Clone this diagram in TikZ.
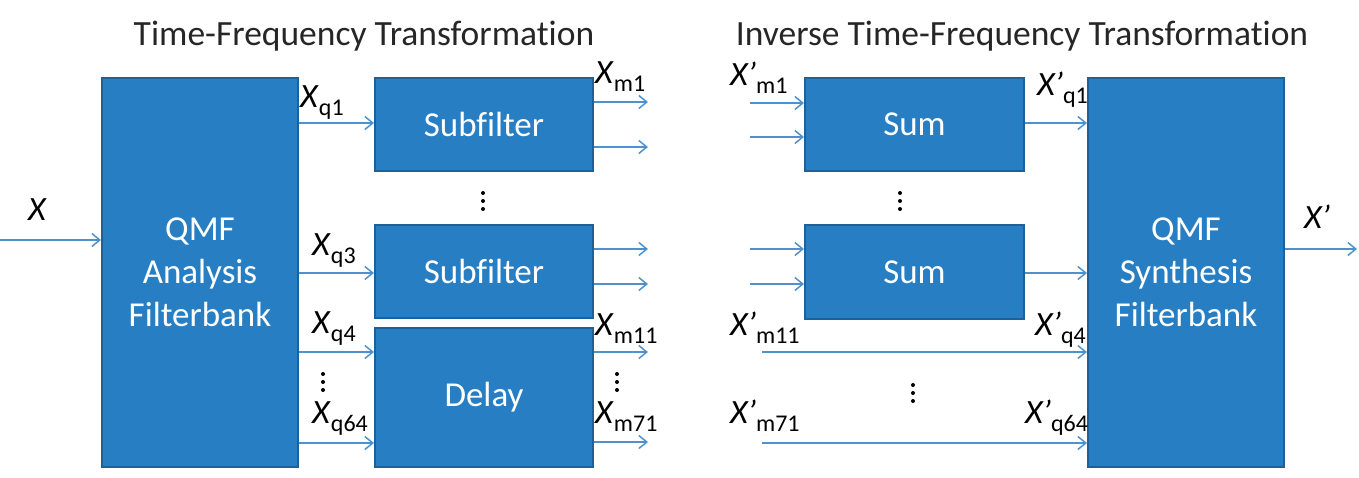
\documentclass[tikz,border=0pt]{standalone}
\usepackage{fontspec}
\setmainfont{Carlito}[Ligatures=NoCommon]
\usetikzlibrary{arrows.meta}
\definecolor{boxfill}{RGB}{40,126,194}
\definecolor{boxdraw}{RGB}{30,96,152}
\definecolor{arr}{RGB}{80,145,205}
\newcommand{\sigl}[2]{\textit{#1}\raisebox{-8pt}{\fontsize{24}{24}\selectfont #2}}
\begin{document}
\begin{tikzpicture}[x=1pt,y=-1pt,
  blk/.style={draw=boxdraw, line width=2pt, fill=boxfill, text=white,
    font=\fontsize{35}{43}\selectfont, align=center, inner sep=0},
  conn/.style={draw=arr, line width=1.5pt, -{Straight Barb[length=8pt,width=13pt]}},
  lbl/.style={anchor=base west, inner sep=0, font=\fontsize{34}{34}\selectfont},
  ttl/.style={anchor=base, inner sep=0, text=black!85, font=\fontsize{35.5}{35.5}\selectfont},
  dot/.style={fill=black, draw=none}]
\useasboundingbox (0,0) rectangle (1359,477);
% titles
\node[ttl] (t1) at (364,45) {Time-Frequency Transformation};
\node[ttl] (t2) at (1022,45) {Inverse Time-Frequency Transformation};
% left blocks
\node[blk, minimum width=196pt, minimum height=389pt] (qa) at (200,272.5) {QMF\\Analysis\\Filterbank};
\node[blk, minimum width=218pt, minimum height=93pt] (sf1) at (484,124.5) {Subfilter};
\node[blk, minimum width=218pt, minimum height=93pt] (sf2) at (484,271.5) {Subfilter};
\node[blk, minimum width=218pt, minimum height=139pt] (dl) at (484,397.5) {Delay};
% right blocks
\node[blk, minimum width=219pt, minimum height=93pt] (sm1) at (914.5,124.5) {Sum};
\node[blk, minimum width=219pt, minimum height=94pt] (sm2) at (914.5,272) {Sum};
\node[blk, minimum width=196pt, minimum height=389pt] (qs) at (1186,272.5) {QMF\\Synthesis\\Filterbank};
% input / output
\coordinate (xin) at (0,240);
\draw[conn] (xin) -- (qa.west |- xin);
\coordinate (xout) at (1357,249);
\draw[conn] (qs.east |- xout) -- (xout);
% analysis to subfilters
\draw[conn] (qa.east |- 0,123) -- (sf1.west |- 0,123);
\draw[conn] (qa.east |- 0,273) -- (sf2.west |- 0,273);
\draw[conn] (qa.east |- 0,352) -- (dl.west |- 0,352);
\draw[conn] (qa.east |- 0,443) -- (dl.west |- 0,443);
% subfilter outputs
\foreach \y/\n in {102/a,147/b}{\coordinate (o1\n) at (648,\y); \draw[conn] (sf1.east |- o1\n) -- (o1\n);}
\foreach \y/\n in {249/a,284/b}{\coordinate (o2\n) at (648,\y); \draw[conn] (sf2.east |- o2\n) -- (o2\n);}
\foreach \y/\n in {352/a,442/b}{\coordinate (o3\n) at (648,\y); \draw[conn] (dl.east |- o3\n) -- (o3\n);}
% sum inputs
\foreach \y/\n in {103/a,137/b}{\coordinate (i1\n) at (750,\y); \draw[conn] (i1\n) -- (sm1.west |- i1\n);}
\foreach \y/\n in {249/a,284/b}{\coordinate (i2\n) at (750,\y); \draw[conn] (i2\n) -- (sm2.west |- i2\n);}
% sum outputs
\draw[conn] (sm1.east |- 0,123) -- (qs.west |- 0,123);
\draw[conn] (sm2.east |- 0,273) -- (qs.west |- 0,273);
% long lines
\coordinate (l1) at (762,352);
\coordinate (l2) at (762,443);
\draw[conn] (l1) -- (qs.west |- l1);
\draw[conn] (l2) -- (qs.west |- l2);
% labels
\node[lbl] (lx) at (28,220) {\textit{X}};
\node[lbl] (lxp) at (1304,228) {\textit{X’}};
\node[lbl] (lq1) at (300,107) {\sigl{X}{q1}};
\node[lbl] (lq3) at (312,255) {\sigl{X}{q3}};
\node[lbl] (lq4) at (312,333) {\sigl{X}{q4}};
\node[lbl] (lq64) at (312,423) {\sigl{X}{q64}};
\node[lbl] (lm1) at (595,83) {\sigl{X}{m1}};
\node[lbl] (lm11) at (595,335) {\sigl{X}{m11}};
\node[lbl] (lm71) at (595,423) {\sigl{X}{m71}};
\node[lbl] (rm1) at (730,85) {\sigl{X’}{m1}};
\node[lbl] (rm11) at (730,335) {\sigl{X’}{m11}};
\node[lbl] (rm71) at (730,423) {\sigl{X’}{m71}};
\node[lbl] (rq1) at (1037,95) {\sigl{X’}{q1}};
\node[lbl] (rq4) at (1035,335) {\sigl{X’}{q4}};
\node[lbl] (rq64) at (1025,423) {\sigl{X’}{q64}};
% vertical dots
\foreach \x/\y in {323/374,483/193,617/374,900/193,913/385}{
  \foreach \d in {0,8,16}{\fill (\x,\y+\d) circle (2);}
}
\end{tikzpicture}
\end{document}
